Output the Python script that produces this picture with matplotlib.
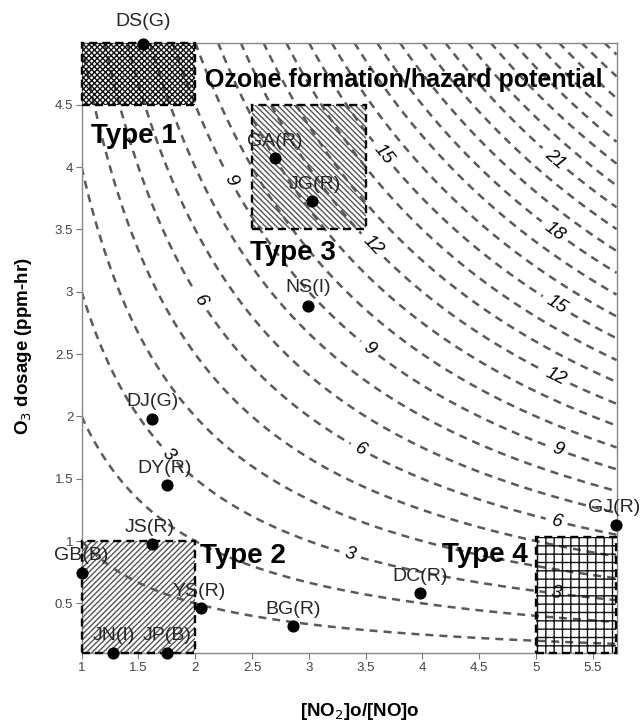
import numpy as np
import matplotlib.pyplot as plt
from matplotlib.patches import Rectangle

plt.rcParams['font.family'] = ['Liberation Sans', 'DejaVu Sans']
plt.rcParams['hatch.linewidth'] = 1.0

# site data: [NO2]o/[NO]o ratio vs O3 dosage
sites = ["DS(G)", "GA(R)", "JG(R)", "NS(I)", "DJ(G)", "DY(R)", "JS(R)",
         "GB(B)", "YS(R)", "BG(R)", "JN(I)", "JP(B)", "DC(R)", "GJ(R)"]
ratio = [1.54, 2.70, 3.03, 2.99, 1.62, 1.75, 1.62,
         1.00, 2.05, 2.86, 1.28, 1.75, 3.98, 5.70]
dosage = [4.99, 4.07, 3.73, 2.89, 1.98, 1.45, 0.98,
          0.74, 0.46, 0.32, 0.10, 0.10, 0.58, 1.13]

# label offsets in pixels (dx, dy)
label_off = [(0, 22), (0, 17), (3, 16), (0, 18), (0, 17), (-2, 16), (-2, 16),
             (0, 18), (-2, 17), (0, 16), (0, 18), (0, 18), (0, 17), (-1, 17)]

# potential = ratio * dosage
levels = list(range(1, 29))
label_levels = [3, 6, 9, 12, 15, 18, 21]
label_pos = [(2.31, 3.89), (2.04, 2.92), (1.76, 1.69),
             (3.64, 4.09), (3.54, 3.35), (3.54, 2.55), (3.45, 1.73), (3.36, 0.88),
             (5.17, 4.07), (5.17, 3.49), (5.18, 2.89), (5.17, 2.32), (5.19, 1.73),
             (5.18, 1.15), (5.18, 0.57)]

# region boxes: (x0, y0, width, height, hatch, hatch colour, name, text x, text y)
regions = [
    (1.0, 4.5, 1.0, 0.5, 'xxxxxx', '#111111', "Type 1", 1.08, 4.25),
    (1.0, 0.1, 1.0, 0.9, '//////', '#555555', "Type 2", 2.04, 0.88),
    (2.5, 3.5, 1.0, 1.0, '\\' * 6, '#555555', "Type 3", 2.48, 3.31),
    (5.0, 0.1, 0.7, 0.93, '++', '#111111', "Type 4", 4.17, 0.89),
]

XMIN, XMAX, YMIN, YMAX = 1.0, 5.71, 0.1, 5.0

fig = plt.figure(figsize=(6.43, 7.21), dpi=100)
ax = fig.add_axes([0.127, 0.094, 0.832, 0.847])

gx = np.linspace(XMIN, XMAX, 400)
gy = np.linspace(YMIN, YMAX, 400)
GX, GY = np.meshgrid(gx, gy)
GZ = GX * GY
line_kw = dict(colors='#5a5a5a', linewidths=1.8, linestyles=[(0, (3.2, 2.4))])
plain = [lv for lv in levels if lv not in label_levels]
ax.contour(GX, GY, GZ, levels=plain, **line_kw)
cs = ax.contour(GX, GY, GZ, levels=label_levels, **line_kw)
txts = ax.clabel(cs, manual=label_pos, fmt='%d', inline=True,
                 inline_spacing=6, fontsize=13.5, colors='black')
for t in txts:
    t.set_fontstyle('italic')

for x0, y0, w, h, hatch, hc, name, tx, ty in regions:
    ax.add_patch(Rectangle((x0, y0), w, h, fill=False, hatch=hatch,
                           edgecolor=hc, linewidth=0, zorder=3))
    ax.add_patch(Rectangle((x0, y0), w, h, fill=False, edgecolor='black',
                           linewidth=1.7, linestyle=(0, (3.4, 2.1)),
                           zorder=4, clip_on=False))
    ax.text(tx, ty, name, fontsize=20, fontweight='bold', ha='left',
            va='center', zorder=5)

ax.text(2.09, 4.70, "Ozone formation/hazard potential", fontsize=18,
        fontweight='bold', ha='left', va='center', zorder=5)

ax.scatter(ratio, dosage, s=60, color='black', zorder=6, clip_on=False)
for name, x, y, (dx, dy) in zip(sites, ratio, dosage, label_off):
    ax.annotate(name, (x, y), xytext=(dx, dy), textcoords='offset pixels',
                ha='center', va='center', fontsize=14, color='#262626',
                zorder=7, annotation_clip=False)

ax.set_xlim(XMIN, XMAX)
ax.set_ylim(YMIN, YMAX)
ax.set_xticks([1, 1.5, 2, 2.5, 3, 3.5, 4, 4.5, 5, 5.5])
ax.set_xticklabels(['1', '1.5', '2', '2.5', '3', '3.5', '4', '4.5', '5', '5.5'])
ax.set_yticks([0.5, 1, 1.5, 2, 2.5, 3, 3.5, 4, 4.5])
ax.set_yticklabels(['0.5', '1', '1.5', '2', '2.5', '3', '3.5', '4', '4.5'])
ax.tick_params(direction='out', length=4, width=0.8, color='#777777',
               labelcolor='#444444', labelsize=9.5, pad=2)
for sp in ax.spines.values():
    sp.set_color('#888888')
    sp.set_linewidth(1.0)

fig.text(0.56, 0.0125, "[NO$_2$]o/[NO]o", fontsize=13.5, fontweight='bold',
         ha='center', va='center')
fig.text(0.036, 0.52, "O$_3$ dosage (ppm-hr)", fontsize=13.5,
         fontweight='bold', rotation=90, ha='center', va='center')

fig.savefig("out.png", dpi=100)
